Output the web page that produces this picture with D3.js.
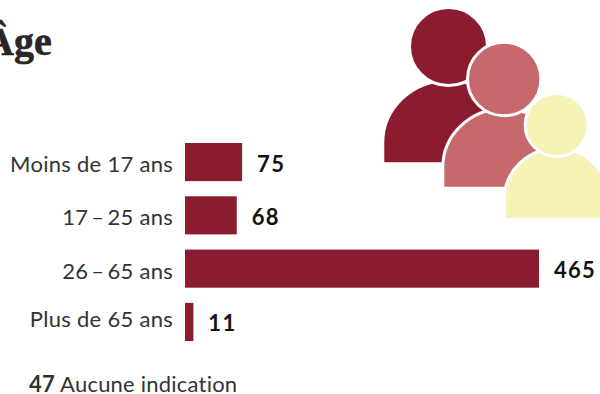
<!DOCTYPE html>
<html lang="fr">
<head>
<meta charset="utf-8">
<script src="https://cdn.jsdelivr.net/npm/d3@7"></script>
<style>
  html, body { margin: 0; padding: 0; background: #fff; }
  svg { display: block; }
  .cat { font: 400 22px Lato, sans-serif; fill: #333; letter-spacing: 0.28px; }
  .val { font: 700 22px Lato, sans-serif; fill: #111; letter-spacing: 1.3px; }
  .note { font: 400 22px Lato, sans-serif; fill: #333; letter-spacing: 0.22px; }
  .title { font: 700 40px "Liberation Serif", serif; fill: #2a2526; stroke: #2a2526; stroke-width: 0.6px; }
</style>
</head>
<body>
<svg id="chart" width="600" height="394"></svg>
<script>
const categories = ["Moins de 17 ans", "17\u2009–\u200925 ans", "26\u2009–\u200965 ans", "Plus de 65 ans"];
const counts = [75, 68, 465, 11];
const missingCount = 47;
const missingLabel = "Aucune indication";
const titleText = "Âge";
const barColor = "#8b1b2e";

const svg = d3.select("#chart");

const x = d3.scaleLinear().domain([0, 465]).range([185, 539]);
const y = d3.scaleBand().domain(categories).range([143, 341]).paddingInner(0.285).paddingOuter(0);
const mid = d => y(d) + y.bandwidth() / 2;

svg.append("text").attr("class", "title").attr("x", -15).attr("y", 55).text(titleText);

// Horizontal bars
svg.selectAll("rect.bar").data(categories).join("rect")
  .attr("class", "bar")
  .attr("x", x(0))
  .attr("y", d => y(d))
  .attr("width", (d, i) => x(counts[i]) - x(0))
  .attr("height", y.bandwidth())
  .attr("fill", barColor);

// Category labels, right aligned against the bars; the last one sits a little higher
svg.selectAll("text.cat").data(categories).join("text")
  .attr("class", "cat")
  .attr("x", 173)
  .attr("y", (d, i) => mid(d) + (i === 3 ? 5 : 10))
  .attr("text-anchor", "end")
  .text(d => d);

// Values after each bar
svg.selectAll("text.val").data(categories).join("text")
  .attr("class", "val")
  .attr("x", (d, i) => x(counts[i]) + 15)
  .attr("y", d => mid(d) + 9.5)
  .text((d, i) => counts[i]);

const note = svg.append("text").attr("class", "note").attr("x", 29).attr("y", 392);
note.append("tspan").attr("font-weight", 700).text(missingCount);
note.append("tspan").text(" " + missingLabel);

// Three overlapping person pictograms, back to front; white outlines separate them
const people = [
  { cx: 448.5, cy: 46.5, r: 39, half: 65.7, base: 163.8, fill: barColor },
  { cx: 504.2, cy: 79, r: 36.7, half: 61.4, base: 188.2, fill: "#c7686d" },
  { cx: 556.7, cy: 125, r: 31.5, half: 52.2, base: 219.2, fill: "#f7f2b5" }
];
const bodyPath = p => {
  const shoulder = p.base - 21;
  const ry = p.half * 0.95;
  return `M${p.cx - p.half},${p.base}V${shoulder}` +
         `A${p.half},${ry} 0 0 1 ${p.cx + p.half},${shoulder}V${p.base}Z`;
};
const icon = svg.append("g").attr("stroke", "#fff").attr("stroke-width", 3);
people.forEach(p => {
  icon.append("path").attr("d", bodyPath(p)).attr("fill", p.fill);
  icon.append("circle").attr("cx", p.cx).attr("cy", p.cy).attr("r", p.r).attr("fill", p.fill);
});
</script>
</body>
</html>
